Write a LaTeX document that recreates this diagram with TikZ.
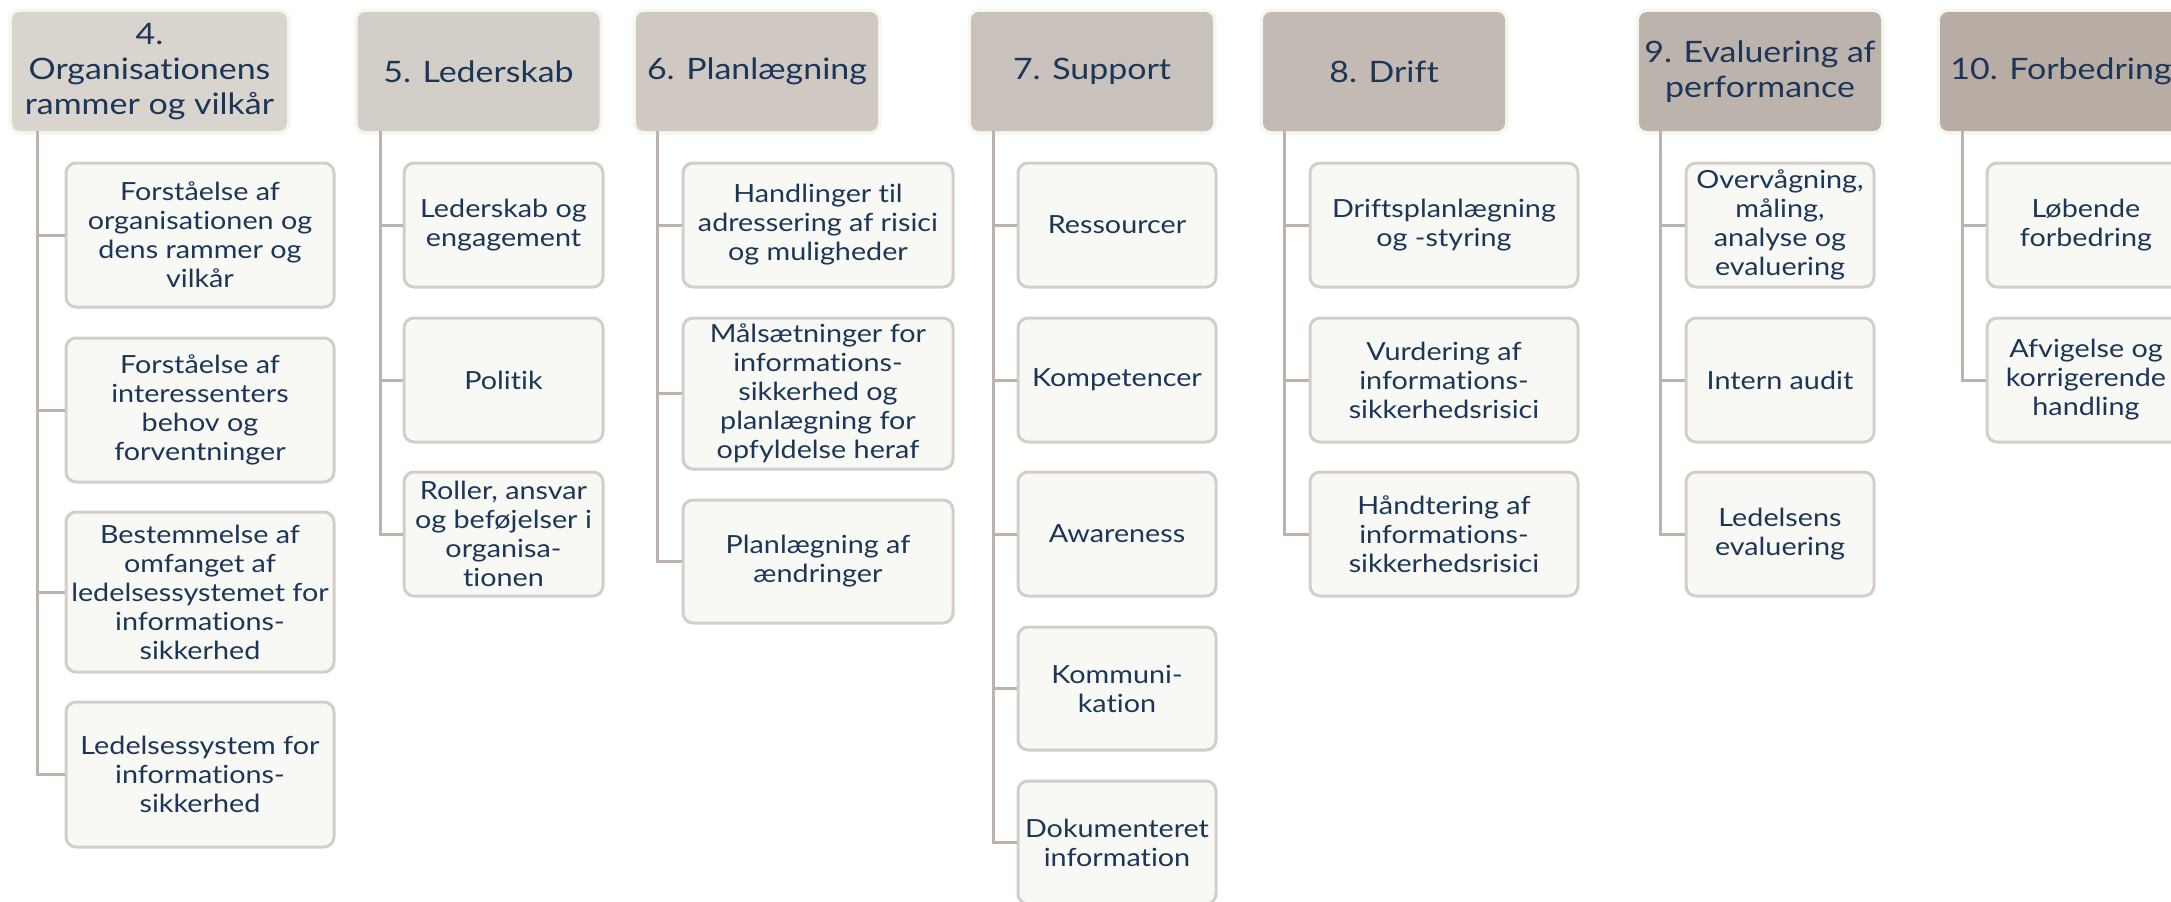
\documentclass[tikz,border=0pt]{standalone}
\usepackage{fontspec}
\setmainfont{Lato}[FakeStretch=1.15, Ligatures=NoCommon]
\definecolor{txt}{HTML}{1C3658}
\definecolor{boxF}{HTML}{F8F8F4}
\definecolor{boxD}{HTML}{D5CEC8}
\definecolor{lineC}{HTML}{BDB3AB}
\definecolor{haloC}{HTML}{F6F6EE}
\definecolor{hA}{HTML}{D9D4CE}
\definecolor{hB}{HTML}{D4CEC9}
\definecolor{hC}{HTML}{CFC8C3}
\definecolor{hD}{HTML}{C9C1BB}
\definecolor{hE}{HTML}{C3BAB4}
\definecolor{hF}{HTML}{BDB3AD}
\definecolor{hG}{HTML}{B7ADA5}
\tikzset{
  hdr/.style={rectangle, rounded corners=8pt, fill=#1,
    preaction={draw=haloC, line width=7pt},
    text=txt, font=\fontsize{29.5}{35}\selectfont, align=center, inner sep=0pt,
    minimum width=242pt, minimum height=119pt},
  sub/.style={rectangle, rounded corners=10pt, fill=boxF, draw=boxD, line width=3pt,
    text=txt, font=\fontsize{25}{29}\selectfont, align=center, inner sep=0pt},
  conn/.style={draw=lineC, line width=3pt}
}
\begin{document}
\begin{tikzpicture}[x=1pt,y=-1pt]
\useasboundingbox (0,0) rectangle (2171,902);
\clip (0,0) rectangle (2171,902);

% chapter headers
\node[hdr=hA, minimum width=275pt] (h4) at (149.5,71.5) {4.\\Organisationens\\rammer og vilkår};
\node[hdr=hB] (h5) at (478.5,71.5) {5. Lederskab};
\node[hdr=hC] (h6) at (757,71.5) {6. Planlægning};
\node[hdr=hD] (h7) at (1092,71.5) {7. Support};
\node[hdr=hE] (h8) at (1384,71.5) {8. Drift};
\node[hdr=hF] (h9) at (1760,71.5) {9. Evaluering af\\performance};
\node[hdr=hG] (h10) at (2061,71.5) {10. Forbedring};

% trunk tops below each header
\coordinate (t4) at ([xshift=25.5pt]h4.south west);
\coordinate (t5) at ([xshift=23pt]h5.south west);
\coordinate (t6) at ([xshift=22pt]h6.south west);
\coordinate (t7) at ([xshift=23pt]h7.south west);
\coordinate (t8) at ([xshift=22pt]h8.south west);
\coordinate (t9) at ([xshift=22pt]h9.south west);
\coordinate (t10) at ([xshift=22.5pt]h10.south west);

% clause 4
\node[sub, minimum width=268pt, minimum height=144pt] (c41) at (200,235) {Forståelse af\\organisationen og\\dens rammer og\\vilkår};
\node[sub, minimum width=268pt, minimum height=144pt] (c42) at (200,410) {Forståelse af\\interessenters\\behov og\\forventninger};
\node[sub, minimum width=268pt, minimum height=160pt] (c43) at (200,592) {Bestemmelse af\\omfanget af\\ledelsessystemet for\\informations-\\sikkerhed};
\node[sub, minimum width=268pt, minimum height=145pt] (c44) at (200,774.5) {Ledelsessystem for\\informations-\\sikkerhed};

% clause 5
\node[sub, minimum width=199pt, minimum height=124pt] (c51) at (503.5,225) {Lederskab og\\engagement};
\node[sub, minimum width=199pt, minimum height=124pt] (c52) at (503.5,380) {Politik};
\node[sub, minimum width=199pt, minimum height=124pt] (c53) at (503.5,534) {Roller, ansvar\\og beføjelser i\\organisa-\\tionen};

% clause 6
\node[sub, minimum width=270pt, minimum height=124pt] (c61) at (818,225) {Handlinger til\\adressering af risici\\og muligheder};
\node[sub, minimum width=270pt, minimum height=151pt] (c62) at (818,393.5) {Målsætninger for\\informations-\\sikkerhed og\\planlægning for\\opfyldelse heraf};
\node[sub, minimum width=270pt, minimum height=123pt] (c63) at (818,561.5) {Planlægning af\\ændringer};

% clause 7
\node[sub, minimum width=198pt, minimum height=124pt] (c71) at (1117,225) {Ressourcer};
\node[sub, minimum width=198pt, minimum height=124pt] (c72) at (1117,380) {Kompetencer};
\node[sub, minimum width=198pt, minimum height=124pt] (c73) at (1117,534) {Awareness};
\node[sub, minimum width=198pt, minimum height=123pt] (c74) at (1117,688.5) {Kommuni-\\kation};
\node[sub, minimum width=198pt, minimum height=123pt] (c75) at (1117,842.5) {Dokumenteret\\information};

% clause 8
\node[sub, minimum width=268pt, minimum height=124pt] (c81) at (1444,225) {Driftsplanlægning\\og -styring};
\node[sub, minimum width=268pt, minimum height=124pt] (c82) at (1444,380) {Vurdering af\\informations-\\sikkerhedsrisici};
\node[sub, minimum width=268pt, minimum height=124pt] (c83) at (1444,534) {Håndtering af\\informations-\\sikkerhedsrisici};

% clause 9
\node[sub, minimum width=188pt, minimum height=124pt] (c91) at (1780,225) {Overvågning,\\måling,\\analyse og\\evaluering};
\node[sub, minimum width=188pt, minimum height=124pt] (c92) at (1780,380) {Intern audit};
\node[sub, minimum width=188pt, minimum height=124pt] (c93) at (1780,534) {Ledelsens\\evaluering};

% clause 10
\node[sub, minimum width=198pt, minimum height=124pt] (c101) at (2086,225) {Løbende\\forbedring};
\node[sub, minimum width=198pt, minimum height=124pt] (c102) at (2086,380) {Afvigelse og\\korrigerende\\handling};

% elbow connectors from each trunk to its sub-clauses
\foreach \t/\list in {t4/{c41,c42,c43,c44}, t5/{c51,c52,c53}, t6/{c61,c62,c63},
  t7/{c71,c72,c73,c74,c75}, t8/{c81,c82,c83}, t9/{c91,c92,c93}, t10/{c101,c102}}{
  \foreach \c in \list { \draw[conn] (\t) |- (\c.west); }
}
\end{tikzpicture}
\end{document}
